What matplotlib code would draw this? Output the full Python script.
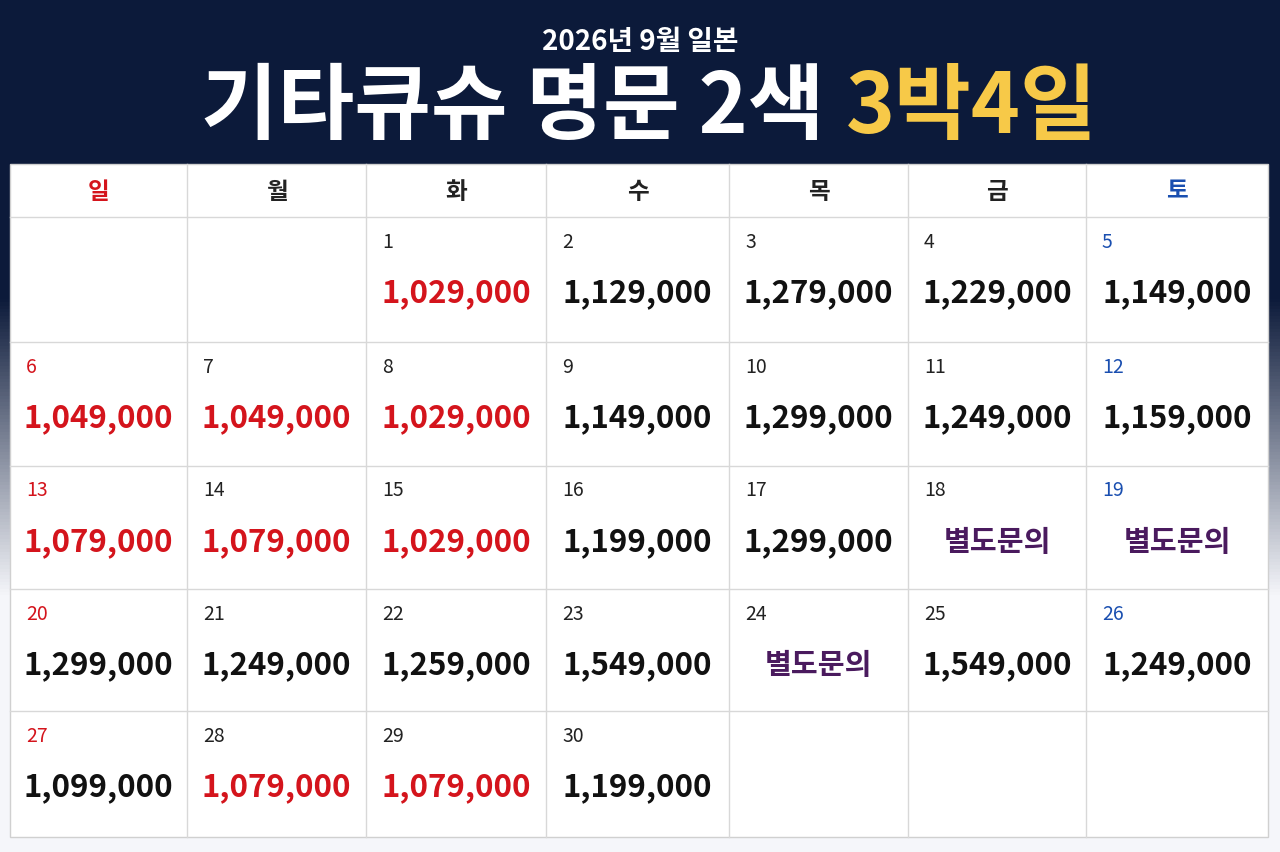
import matplotlib
matplotlib.use("Agg")
import matplotlib.pyplot as plt
import numpy as np
from matplotlib.patches import Rectangle

plt.rcParams['font.family'] = ['Noto Sans CJK KR', 'DejaVu Sans']

subtitle = "2026년 9월 일본"
title_main = "기타큐슈 명문 2색"
title_accent = "3박4일"
weekdays = ["일", "월", "화", "수", "목", "금", "토"]
first_col = 2  # Sept 1 is Tuesday
days = list(range(1, 31))
prices = ["1,029,000", "1,129,000", "1,279,000", "1,229,000", "1,149,000",
          "1,049,000", "1,049,000", "1,029,000", "1,149,000", "1,299,000", "1,249,000", "1,159,000",
          "1,079,000", "1,079,000", "1,029,000", "1,199,000", "1,299,000", "별도문의", "별도문의",
          "1,299,000", "1,249,000", "1,259,000", "1,549,000", "별도문의", "1,549,000", "1,249,000",
          "1,099,000", "1,079,000", "1,079,000", "1,199,000"]
red_days = [1, 6, 7, 8, 13, 14, 15, 28, 29]

RED = "#d4141c"
BLUE = "#1a4fb0"
PURPLE = "#4a1a5e"
NAVY = "#0c1a3a"
YELLOW = "#f7c948"

fig = plt.figure(figsize=(12.8, 8.53), dpi=100)
ax = fig.add_axes([0, 0, 1, 1])
ax.set_xlim(0, 1280)
ax.set_ylim(853, 0)
ax.axis('off')

grad = np.linspace(0, 1, 256).reshape(-1, 1)
c0 = np.array([12, 26, 58]) / 255
c1 = np.array([245, 246, 250]) / 255
t = np.clip((grad - 0.35) / 0.35, 0, 1)
img = c0 * (1 - t) + c1 * t
ax.imshow(img.reshape(256, 1, 3), extent=[0, 1280, 853, 0], aspect='auto', zorder=0)
ax.add_patch(Rectangle((0, 0), 1280, 165, color=NAVY, zorder=1))

ax.text(640, 42, subtitle, color='white', fontsize=20, fontweight='bold', ha='center', va='center', zorder=5)
ax.text(824, 108, title_main, color='white', fontsize=60, fontweight='black', ha='right', va='center', zorder=5)
ax.text(846, 108, title_accent, color=YELLOW, fontsize=60, fontweight='black', ha='left', va='center', zorder=5)

cols = [10, 187, 366, 546, 729, 908, 1086, 1268]
rows = [165, 218, 343, 467, 590, 712, 838]
ax.add_patch(Rectangle((cols[0], rows[0]), cols[-1] - cols[0], rows[-1] - rows[0],
                       facecolor='white', edgecolor='#d0d0d0', lw=1, zorder=2))
for x in cols[1:-1]:
    ax.plot([x, x], [rows[0], rows[-1]], color='#d8d8d8', lw=1, zorder=3)
for y in rows[1:-1]:
    ax.plot([cols[0], cols[-1]], [y, y], color='#d8d8d8', lw=1, zorder=3)

for i, w in enumerate(weekdays):
    c = RED if i == 0 else BLUE if i == 6 else '#222222'
    ax.text((cols[i] + cols[i + 1]) / 2, (rows[0] + rows[1]) / 2, w, color=c, fontsize=17,
            fontweight='bold', ha='center', va='center', zorder=5)

for d, p in zip(days, prices):
    idx = first_col + d - 1
    r, c = divmod(idx, 7)
    x0, x1 = cols[c], cols[c + 1]
    y0 = rows[r + 1]
    dc = RED if c == 0 else BLUE if c == 6 else '#222222'
    ax.text(x0 + 16, y0 + 24, str(d), color=dc, fontsize=14, fontweight='medium',
            ha='left', va='center', zorder=5)
    if p == "별도문의":
        pc, fs = PURPLE, 21
    else:
        pc = RED if d in red_days else '#111111'
        fs = 22.5
    ax.text((x0 + x1) / 2, y0 + 75, p, color=pc, fontsize=fs, fontweight='bold',
            ha='center', va='center', zorder=5)

fig.savefig("out.png", dpi=100)
